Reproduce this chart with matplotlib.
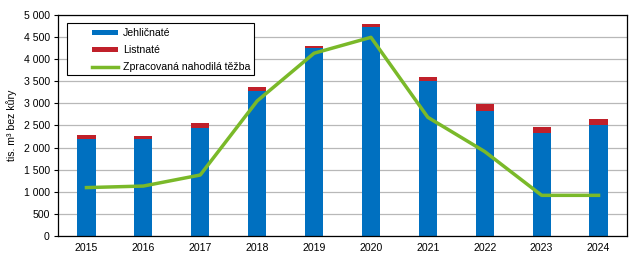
import numpy as np
import matplotlib.pyplot as plt
from matplotlib.ticker import FuncFormatter
from matplotlib.patches import Rectangle

plt.rcParams['font.family'] = ['Liberation Sans', 'DejaVu Sans']

# Data (tis. m3 bez kury)
years = ['2015', '2016', '2017', '2018', '2019', '2020', '2021', '2022', '2023', '2024']
jehlicnate = [2190, 2190, 2450, 3290, 4260, 4720, 3505, 2830, 2330, 2505]
listnate = [95, 80, 113, 83, 40, 76, 92, 156, 136, 142]
nahodila = [1095, 1130, 1380, 3055, 4135, 4495, 2685, 1910, 920, 920]

blue = '#0070c0'
red = '#c0202a'
green = '#7ab929'
fs = 7.6

W, H = 643, 261
fig = plt.figure(figsize=(W / 100, H / 100), dpi=100)
ax = fig.add_axes([58 / W, 1 - 236 / H, 569 / W, 221 / H])

x = np.arange(len(years))
b1 = ax.bar(x, jehlicnate, width=0.32, color=blue, label='Jehličnaté', zorder=2)
b2 = ax.bar(x, listnate, width=0.32, bottom=jehlicnate, color=red, label='Listnaté', zorder=2)
l1, = ax.plot(x, nahodila, color=green, lw=2.5, label='Zpracovaná nahodilá těžba', zorder=3)

ax.set_xlim(-0.5, len(years) - 0.5)
ax.set_ylim(0, 5000)
ax.set_yticks(np.arange(0, 5001, 500))
ax.yaxis.set_major_formatter(FuncFormatter(lambda v, p: f'{int(v):,}'.replace(',', ' ')))
ax.set_xticks(x)
ax.set_xticklabels(years)
ax.tick_params(axis='x', length=0, pad=5, labelsize=fs)
ax.tick_params(axis='y', length=3, width=0.8, pad=3, labelsize=fs)
ax.grid(axis='y', color='#b8b8b8', lw=0.9, zorder=0)
for s in ax.spines.values():
    s.set_linewidth(0.9)
    s.set_color('black')
ax.set_ylabel('tis. m³ bez kůry', fontsize=fs, labelpad=5)

# legend box (Excel style, handles indented)
ax.add_patch(Rectangle(((67 - 58) / 569, 1 - (75 - 15) / 221), 187 / 569, 52 / 221,
                       transform=ax.transAxes, facecolor='white', edgecolor='black',
                       lw=0.8, zorder=4))
leg = ax.legend([b1, b2, l1], ['Jehličnaté', 'Listnaté', 'Zpracovaná nahodilá těžba'],
                loc='upper left', bbox_to_anchor=((92 - 58) / 569, 1 - (28 - 15) / 221),
                fontsize=fs, frameon=False, handlelength=2.5, handleheight=0.4,
                borderpad=0, labelspacing=0.68, handletextpad=0.45, borderaxespad=0)
leg.set_zorder(5)

fig.savefig('out.png', dpi=100)
